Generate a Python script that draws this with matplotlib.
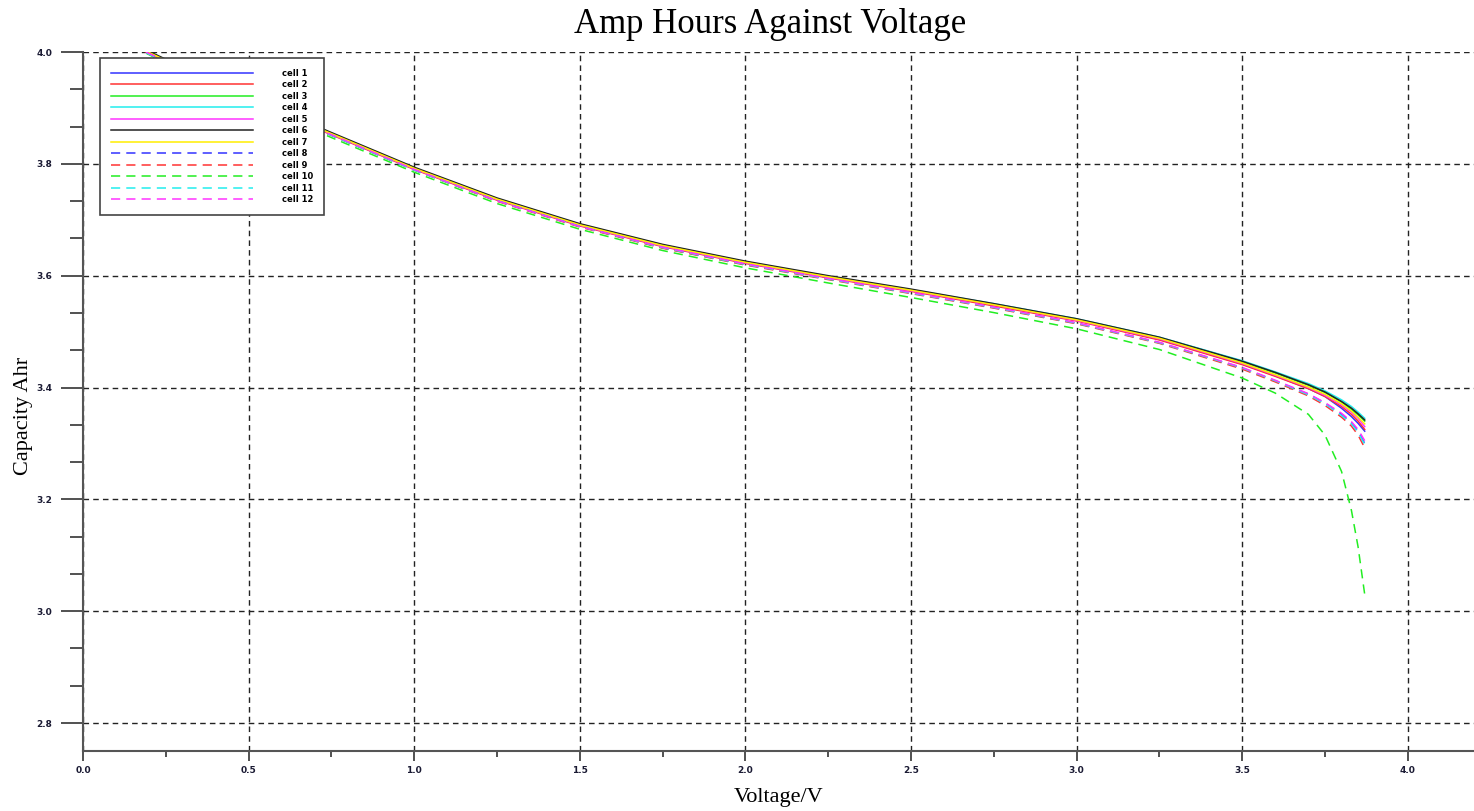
import matplotlib
matplotlib.use("Agg")
import matplotlib.pyplot as plt
from matplotlib.ticker import MultipleLocator, AutoMinorLocator

# Voltage samples shared by all cells
voltage = [0.15, 0.2, 0.3, 0.4, 0.5, 0.75, 1.0, 1.25, 1.5, 1.75, 2.0, 2.25,
           2.5, 2.75, 3.0, 3.25, 3.5, 3.6, 3.7, 3.75, 3.8, 3.83, 3.85, 3.87]

# Capacity (Ahr) per cell
cell_1 = [4.013, 3.998, 3.970, 3.943, 3.916, 3.853, 3.791, 3.736, 3.690, 3.653, 3.623, 3.597,
          3.573, 3.547, 3.520, 3.486, 3.442, 3.421, 3.398, 3.384, 3.363, 3.348, 3.336, 3.322]
cell_2 = [4.012, 3.997, 3.969, 3.942, 3.915, 3.852, 3.790, 3.735, 3.689, 3.652, 3.622, 3.596,
          3.572, 3.546, 3.519, 3.485, 3.441, 3.420, 3.398, 3.384, 3.366, 3.352, 3.340, 3.325]
cell_3 = [4.014, 3.999, 3.971, 3.944, 3.917, 3.854, 3.792, 3.737, 3.691, 3.654, 3.624, 3.598,
          3.574, 3.549, 3.522, 3.489, 3.446, 3.426, 3.404, 3.391, 3.374, 3.361, 3.351, 3.340]
cell_4 = [4.015, 4.000, 3.972, 3.945, 3.918, 3.855, 3.793, 3.738, 3.692, 3.655, 3.625, 3.599,
          3.575, 3.550, 3.523, 3.490, 3.448, 3.428, 3.407, 3.394, 3.378, 3.366, 3.356, 3.345]
cell_5 = [4.013, 3.998, 3.970, 3.943, 3.916, 3.853, 3.791, 3.736, 3.690, 3.653, 3.623, 3.597,
          3.573, 3.548, 3.520, 3.487, 3.443, 3.422, 3.400, 3.386, 3.369, 3.356, 3.345, 3.330]
cell_6 = [4.016, 4.001, 3.973, 3.946, 3.919, 3.856, 3.794, 3.739, 3.693, 3.656, 3.626, 3.600,
          3.576, 3.550, 3.523, 3.490, 3.447, 3.427, 3.405, 3.392, 3.375, 3.363, 3.353, 3.342]
cell_7 = [4.014, 3.999, 3.971, 3.944, 3.917, 3.854, 3.792, 3.737, 3.691, 3.654, 3.624, 3.598,
          3.574, 3.548, 3.521, 3.488, 3.444, 3.423, 3.401, 3.388, 3.371, 3.358, 3.347, 3.335]
cell_8 = [4.011, 3.996, 3.968, 3.941, 3.914, 3.851, 3.789, 3.734, 3.688, 3.650, 3.620, 3.594,
          3.569, 3.543, 3.515, 3.480, 3.435, 3.412, 3.388, 3.372, 3.352, 3.337, 3.322, 3.300]
cell_9 = [4.012, 3.997, 3.969, 3.942, 3.915, 3.851, 3.789, 3.733, 3.687, 3.649, 3.619, 3.593,
          3.568, 3.542, 3.514, 3.479, 3.433, 3.410, 3.385, 3.368, 3.347, 3.331, 3.315, 3.292]
cell_10 = [4.010, 3.995, 3.966, 3.938, 3.911, 3.847, 3.785, 3.729, 3.683, 3.645, 3.614, 3.587,
           3.561, 3.534, 3.505, 3.468, 3.417, 3.390, 3.352, 3.315, 3.250, 3.180, 3.115, 3.030]
cell_11 = [4.011, 3.996, 3.968, 3.941, 3.914, 3.851, 3.789, 3.734, 3.688, 3.650, 3.620, 3.594,
           3.569, 3.543, 3.515, 3.480, 3.435, 3.412, 3.387, 3.371, 3.350, 3.335, 3.320, 3.298]
cell_12 = [4.012, 3.997, 3.969, 3.942, 3.915, 3.852, 3.790, 3.734, 3.688, 3.651, 3.621, 3.595,
           3.570, 3.544, 3.516, 3.481, 3.436, 3.413, 3.389, 3.373, 3.354, 3.339, 3.325, 3.305]

cells = [cell_1, cell_2, cell_3, cell_4, cell_5, cell_6,
         cell_7, cell_8, cell_9, cell_10, cell_11, cell_12]
labels = ["cell %d" % (i + 1) for i in range(12)]
colors = ["#3333ff", "#ff3333", "#22ee22", "#22eeee", "#ff33ff", "#222222",
          "#ffee00", "#3333ff", "#ff3333", "#22ee22", "#22eeee", "#ff33ff"]
styles = ["-"] * 7 + ["--"] * 5

fig = plt.figure(figsize=(14.74, 8.11), dpi=100)
ax = fig.add_axes([83 / 1474, 60 / 811, 1391 / 1474, 699 / 811])

for cap, lab, col, ls in zip(cells, labels, colors, styles):
    line, = ax.plot(voltage, cap, color=col, linestyle=ls, linewidth=1.1, label=lab)
    if ls == "--":
        line.set_dashes((6, 4))

ax.set_xlim(0, 4.2)
ax.set_ylim(2.75, 4.0)

ax.xaxis.set_major_locator(MultipleLocator(0.5))
ax.xaxis.set_minor_locator(AutoMinorLocator(2))
ax.yaxis.set_major_locator(MultipleLocator(0.2))
ax.yaxis.set_minor_locator(AutoMinorLocator(3))

ax.grid(True, which="major", color="#222222", linestyle=(0, (4, 3)), linewidth=1.0)
ax.set_axisbelow(True)

for side in ["top", "right"]:
    ax.spines[side].set_visible(False)
for side in ["left", "bottom"]:
    ax.spines[side].set_color("#555555")
    ax.spines[side].set_linewidth(1.5)

ax.tick_params(axis="y", which="major", direction="out", length=16, width=1.2,
               color="#333333", pad=6, labelsize=6.5)
ax.tick_params(axis="y", which="minor", direction="out", length=9.5, width=1.2,
               color="#333333")
ax.tick_params(axis="x", which="major", direction="out", length=7, width=1.2,
               color="#333333", pad=4, labelsize=6.5)
ax.tick_params(axis="x", which="minor", direction="out", length=4.3, width=1.2,
               color="#333333")
for lbl in ax.get_xticklabels() + ax.get_yticklabels():
    lbl.set_fontweight("bold")
    lbl.set_color("#1a1a33")

ax.set_title("Amp Hours Against Voltage", fontsize=25, family="Liberation Serif",
             pad=14, x=0.494)
ax.set_xlabel("Voltage/V", fontsize=16, family="Liberation Serif", labelpad=9)
ax.set_ylabel("Capacity Ahr", fontsize=16, family="Liberation Serif")
ax.yaxis.set_label_coords(-0.036, 0.48)

leg = ax.legend(loc="upper left", bbox_to_anchor=(17 / 1391, 693 / 699), borderaxespad=0,
                prop={"weight": "bold", "size": 6}, handlelength=17,
                handletextpad=3.5, labelspacing=0.3, borderpad=1.3,
                fancybox=False, framealpha=1.0, edgecolor="#444444")
leg.get_frame().set_linewidth(1.2)

fig.savefig("out.png", dpi=100)
